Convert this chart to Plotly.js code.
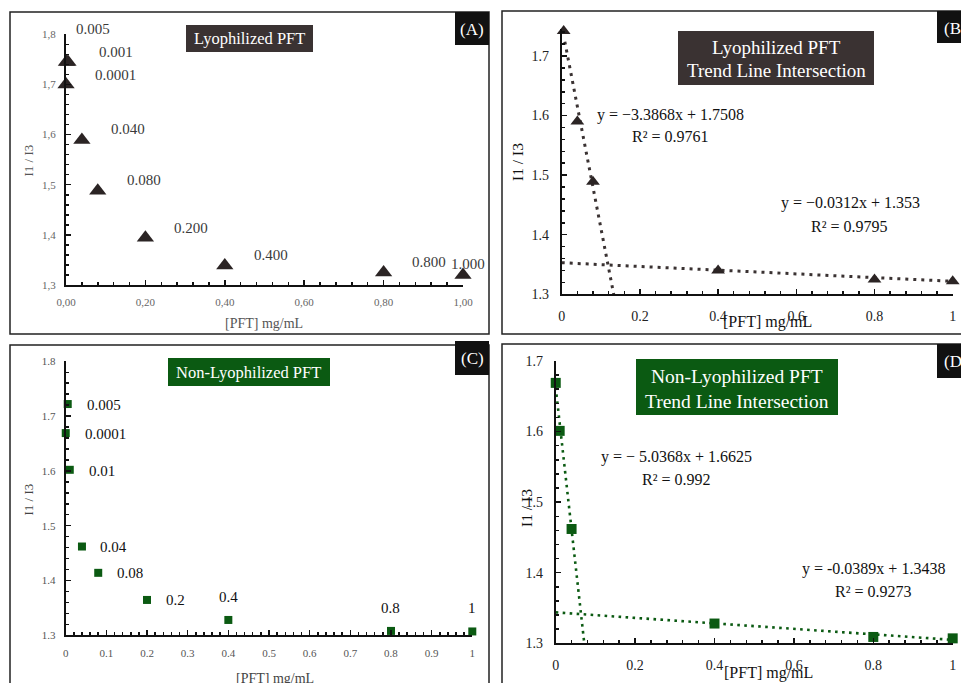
<!DOCTYPE html>
<html>
<head>
<meta charset="utf-8">
<script src="https://cdn.plot.ly/plotly-3.0.1.min.js"></script>
<style>html,body{margin:0;padding:0;background:#fff;}#chart{width:961px;height:683px;}</style>
</head>
<body>
<div id="chart"></div>
<script>
// ---------- data ----------
// (A) Lyophilized PFT
const lyoConc   = [0.0001, 0.001, 0.005, 0.04, 0.08, 0.2, 0.4, 0.8, 1.0];
const lyoRatio  = [1.700, 1.745, 1.745, 1.589, 1.488, 1.394, 1.339, 1.325, 1.320];
const lyoLabels = ["0.0001", "0.001", "0.005", "0.040", "0.080", "0.200", "0.400", "0.800", "1.000"];
const aTickVals = [0, 0.2, 0.4, 0.6, 0.8, 1.0];
const aTickText = ["0,00", "0,20", "0,40", "0,60", "0,80", "1,00"];
const aYTickVals = [1.3, 1.4, 1.5, 1.6, 1.7, 1.8];
const aYTickText = ["1,3", "1,4", "1,5", "1,6", "1,7", "1,8"];

// (B) Lyophilized PFT trend line intersection
const lyoTrendConc  = [0.005, 0.04, 0.08, 0.4, 0.8, 1.0];
const lyoTrendRatio = [1.742, 1.590, 1.489, 1.340, 1.325, 1.322];
const lyoFit1X = [0.008, 0.133];
const lyoFit1Y = [1.724, 1.300];
const lyoFit2X = [0, 1.0];
const lyoFit2Y = [1.353, 1.3218];
const lyoEq1 = ["y = −3.3868x + 1.7508", "R² = 0.9761"];
const lyoEq2 = ["y = −0.0312x + 1.353", "R² = 0.9795"];

// (C) Non-Lyophilized PFT
const nonConc   = [0.0001, 0.005, 0.01, 0.04, 0.08, 0.2, 0.4, 0.8, 1.0];
const nonRatio  = [1.669, 1.722, 1.602, 1.462, 1.414, 1.3645, 1.328, 1.308, 1.307];
const nonLabels = ["0.0001", "0.005", "0.01", "0.04", "0.08", "0.2", "0.4", "0.8", "1"];

// (D) Non-Lyophilized PFT trend line intersection
const nonTrendConc  = [0.0001, 0.01, 0.04, 0.4, 0.8, 1.0];
const nonTrendRatio = [1.669, 1.601, 1.462, 1.328, 1.309, 1.307];
const nonFit1X = [0, 0.072];
const nonFit1Y = [1.6625, 1.300];
const nonFit2X = [0, 1.0];
const nonFit2Y = [1.3438, 1.3049];
const nonEq1 = ["y = − 5.0368x + 1.6625", "R² = 0.992"];
const nonEq2 = ["y = -0.0389x + 1.3438", "R² = 0.9273"];

// ---------- layout helpers ----------
const W = 961, H = 683;
const PX = x => x / W;
const PY = y => 1 - y / H;
const FONT = "Liberation Serif, Times New Roman, serif";
const DARK = "#3a3232";
const TRI = "#2b2424";
const GREEN = "#0b5a12";

// label offsets (pixels, dy positive = down)
const aOffsets = [[27,-9],[31,-10],[6,-33],[27,-11],[27,-11],[27,-10],[27,-10],[26,-10],[-14,-11]];
const cOffsets = [[17,1],[17,1],[17,1],[16,0],[17,0],[17,0],[0,-23],[0,-23],[0,-23]];

function axisBase(extra) {
  return Object.assign({
    showgrid: false, zeroline: false, showline: true, linecolor: "#111", linewidth: 2,
    ticks: "inside", ticklen: 5, tickwidth: 1.5, tickcolor: "#111",
    fixedrange: true
  }, extra);
}

const traces = [
  // A
  {x: lyoConc, y: lyoRatio, xaxis: "x", yaxis: "y", mode: "markers", type: "scatter",
   marker: {symbol: "triangle-up", size: 15, color: TRI}, cliponaxis: false},
  // B lines then points
  {x: lyoFit1X, y: lyoFit1Y, xaxis: "x2", yaxis: "y2", mode: "lines", type: "scatter",
   line: {color: DARK, width: 3, dash: "3px,5px"}, cliponaxis: false},
  {x: lyoFit2X, y: lyoFit2Y, xaxis: "x2", yaxis: "y2", mode: "lines", type: "scatter",
   line: {color: DARK, width: 3, dash: "3px,5px"}, cliponaxis: false},
  {x: lyoTrendConc, y: lyoTrendRatio, xaxis: "x2", yaxis: "y2", mode: "markers", type: "scatter",
   marker: {symbol: "triangle-up", size: 12, color: TRI}, cliponaxis: false},
  // C
  {x: nonConc, y: nonRatio, xaxis: "x3", yaxis: "y3", mode: "markers", type: "scatter",
   marker: {symbol: "square", size: 8, color: GREEN}, cliponaxis: false},
  // D
  {x: nonFit1X, y: nonFit1Y, xaxis: "x4", yaxis: "y4", mode: "lines", type: "scatter",
   line: {color: GREEN, width: 2.6, dash: "2.6px,4.4px"}, cliponaxis: false},
  {x: nonFit2X, y: nonFit2Y, xaxis: "x4", yaxis: "y4", mode: "lines", type: "scatter",
   line: {color: GREEN, width: 2.6, dash: "2.6px,4.4px"}, cliponaxis: false},
  {x: nonTrendConc, y: nonTrendRatio, xaxis: "x4", yaxis: "y4", mode: "markers", type: "scatter",
   marker: {symbol: "square", size: 10, color: GREEN}, cliponaxis: false}
];

const shapes = [];
const annotations = [];
function rect(x0, y0, x1, y1, fill, lineColor, lw) {
  shapes.push({type: "rect", xref: "paper", yref: "paper",
    x0: PX(x0), x1: PX(x1), y0: PY(y1), y1: PY(y0),
    fillcolor: fill || "rgba(0,0,0,0)", line: {color: lineColor || "rgba(0,0,0,0)", width: lw || 0},
    layer: "above"});
}
function text(t, x, y, size, color, opts) {
  annotations.push(Object.assign({text: t, xref: "paper", yref: "paper", x: PX(x), y: PY(y),
    xanchor: "center", yanchor: "middle", showarrow: false,
    font: {family: FONT, size: size, color: color}}, opts || {}));
}

// frames
rect(10, 12, 489, 334, null, "#222", 1.5);
rect(502, 11, 975, 334, null, "#222", 1.5);
rect(10, 345, 489, 700, null, "#222", 1.5);
rect(502, 344, 975, 700, null, "#222", 1.5);

// title boxes
rect(186, 25, 313, 52, DARK);
text("Lyophilized PFT", 249.5, 38.5, 16.5, "#fff");
rect(678, 31, 874, 85, DARK);
text("Lyophilized PFT", 776, 47.5, 19, "#fff");
text("Trend Line Intersection", 776, 71, 19, "#fff");
rect(168, 358, 330, 386, GREEN);
text("Non-Lyophilized PFT", 249, 372, 16.5, "#fff");
rect(636, 359, 838, 415, GREEN);
text("Non-Lyophilized PFT", 737, 376.5, 19.5, "#fff");
text("Trend Line Intersection", 737, 401, 19.5, "#fff");

// panel letters
rect(455, 12, 489, 45, "#111");
text("(A)", 472, 30, 17, "#fff");
rect(937, 11, 975, 43, "#111");
text("(B)", 942, 28, 17, "#fff", {xanchor: "left"});
rect(455, 341, 489, 375, "#111");
text("(C)", 472, 358, 17, "#fff");
rect(937, 344, 975, 378, "#111");
text("(D)", 942, 361, 17, "#fff", {xanchor: "left"});

// axis titles
text("[PFT] mg/mL", 264, 323, 14, "#555");
text("I1 / I3", 28, 160.5, 13, "#555", {textangle: -90});
text("[PFT] mg/mL", 767, 322, 16, "#111");
text("I1 / I3", 517, 162, 15.5, "#111", {textangle: -90});
text("[PFT] mg/mL", 275, 678, 14, "#444");
text("I1 / I3", 28, 499.5, 13, "#444", {textangle: -90});
text("[PFT] mg/mL", 768, 673, 16, "#111");
text("I1 / I3", 526, 508, 15.5, "#111", {textangle: -90});

// equations
text(lyoEq1[0], 670, 115, 16, "#111");
text(lyoEq1[1], 670, 136, 16, "#111");
text(lyoEq2[0], 850, 203, 16, "#111");
text(lyoEq2[1], 849, 226, 16, "#111");
text(nonEq1[0], 676, 457, 16, "#111");
text(nonEq1[1], 676, 479, 16, "#111");
text(nonEq2[0], 873, 569, 16, "#111");
text(nonEq2[1], 873, 591, 16, "#111");

// point labels (A)
lyoLabels.forEach((lab, i) => {
  annotations.push({text: lab, xref: "x", yref: "y", x: lyoConc[i], y: lyoRatio[i],
    xanchor: "left", yanchor: "middle", xshift: aOffsets[i][0], yshift: -aOffsets[i][1],
    showarrow: false, font: {family: FONT, size: 15, color: "#3a3a3a"}});
});
// point labels (C)
nonLabels.forEach((lab, i) => {
  const centered = cOffsets[i][0] === 0;
  annotations.push({text: lab, xref: "x3", yref: "y3", x: nonConc[i], y: nonRatio[i],
    xanchor: centered ? "center" : "left", yanchor: "middle",
    xshift: cOffsets[i][0], yshift: -cOffsets[i][1],
    showarrow: false, font: {family: FONT, size: 15, color: "#111"}});
});

const layout = {
  width: W, height: H,
  margin: {l: 0, r: 0, t: 0, b: 0},
  paper_bgcolor: "#fff", plot_bgcolor: "rgba(0,0,0,0)",
  showlegend: false, hovermode: false,
  font: {family: FONT},
  xaxis: axisBase({domain: [PX(66), PX(463)], range: [0, 1], anchor: "y",
    tickmode: "array", tickvals: aTickVals, ticktext: aTickText,
    tickfont: {family: FONT, size: 11, color: "#666"}, ticklabelstandoff: 6,
    minor: {tickmode: "linear", tick0: 0, dtick: 0.04, ticks: "inside", ticklen: 3, tickcolor: "#111"}}),
  yaxis: axisBase({domain: [PY(285), PY(34.3)], range: [1.3, 1.8], anchor: "x",
    tickmode: "array", tickvals: aYTickVals, ticktext: aYTickText,
    tickfont: {family: FONT, size: 11, color: "#666"}, ticklabelstandoff: 6,
    minor: {tickmode: "linear", tick0: 1.3, dtick: 0.02, ticks: "inside", ticklen: 3, tickcolor: "#111"}}),
  xaxis2: axisBase({domain: [PX(561.7), PX(952.7)], range: [0, 1], anchor: "y2",
    tickmode: "linear", tick0: 0, dtick: 0.2,
    tickfont: {family: FONT, size: 14, color: "#222"}, ticklabelstandoff: 8,
    minor: {dtick: 0.04, ticks: "inside", ticklen: 3, tickcolor: "#111"}}),
  yaxis2: axisBase({domain: [PY(294.3), PY(29.2)], range: [1.3, 1.745], anchor: "x2",
    tickmode: "linear", tick0: 1.3, dtick: 0.1,
    tickfont: {family: FONT, size: 14, color: "#222"}, ticklabelstandoff: 8,
    minor: {dtick: 0.02, ticks: "inside", ticklen: 3, tickcolor: "#111"}}),
  xaxis3: axisBase({domain: [PX(65.7), PX(472.3)], range: [0, 1], anchor: "y3",
    tickmode: "linear", tick0: 0, dtick: 0.1,
    tickfont: {family: FONT, size: 11, color: "#555"}, ticklabelstandoff: 6,
    minor: {dtick: 0.02, ticks: "inside", ticklen: 3, tickcolor: "#111"}}),
  yaxis3: axisBase({domain: [PY(635.3), PY(361.3)], range: [1.3, 1.8], anchor: "x3",
    tickmode: "linear", tick0: 1.3, dtick: 0.1,
    tickfont: {family: FONT, size: 11, color: "#555"}, ticklabelstandoff: 6,
    minor: {dtick: 0.02, ticks: "inside", ticklen: 3, tickcolor: "#111"}}),
  xaxis4: axisBase({domain: [PX(555.7), PX(952.7)], range: [0, 1], anchor: "y4",
    tickmode: "linear", tick0: 0, dtick: 0.2,
    tickfont: {family: FONT, size: 14, color: "#222"}, ticklabelstandoff: 8,
    minor: {dtick: 0.04, ticks: "inside", ticklen: 3, tickcolor: "#111"}}),
  yaxis4: axisBase({domain: [PY(643.3), PY(361)], range: [1.3, 1.7], anchor: "x4",
    tickmode: "linear", tick0: 1.3, dtick: 0.1,
    tickfont: {family: FONT, size: 14, color: "#222"}, ticklabelstandoff: 8,
    minor: {dtick: 0.02, ticks: "inside", ticklen: 3, tickcolor: "#111"}}),
  shapes: shapes,
  annotations: annotations
};

Plotly.newPlot("chart", traces, layout, {staticPlot: true, displayModeBar: false});
</script>
</body>
</html>
